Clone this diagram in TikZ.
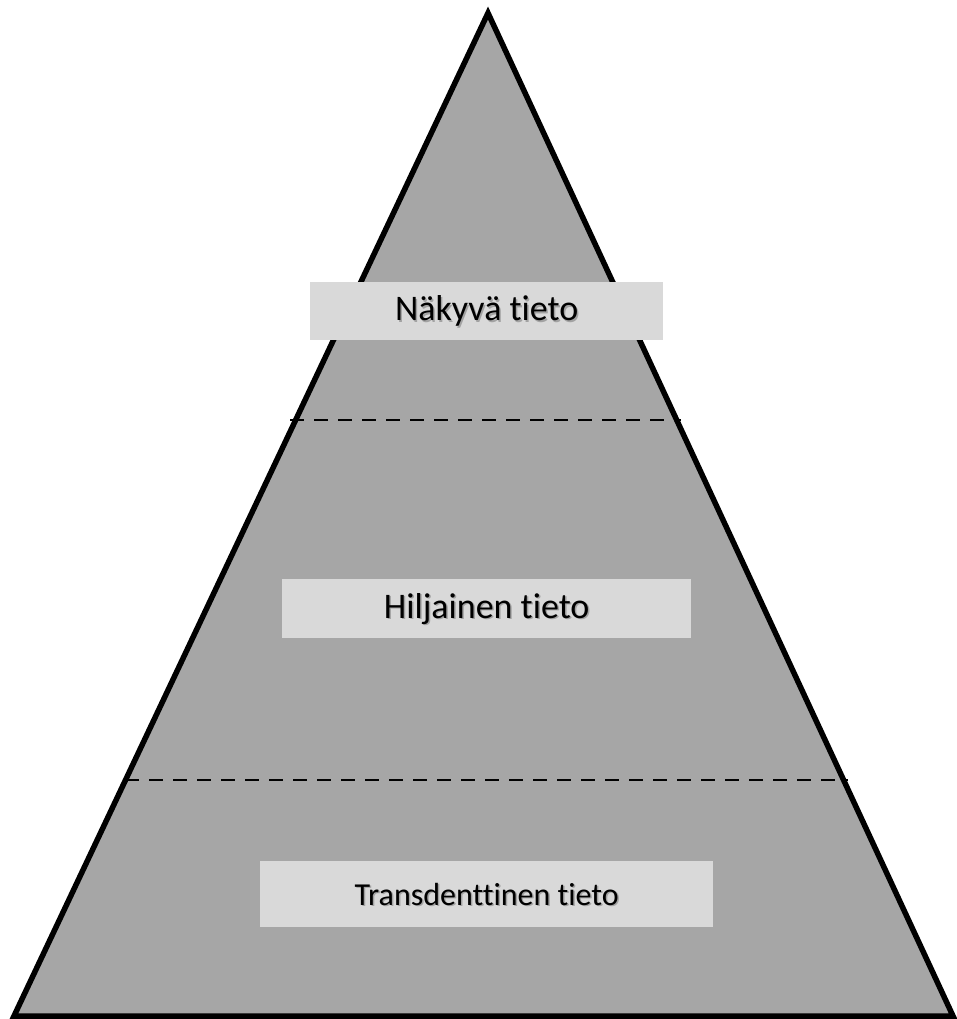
\documentclass[tikz,border=0pt]{standalone}
\usepackage{fontspec}
\setmainfont[Ligatures=NoCommon]{Carlito}
\definecolor{pyramidfill}{HTML}{A6A6A6}
\definecolor{labelfill}{HTML}{D9D9D9}
\definecolor{textshadow}{HTML}{8C8C8C}
\begin{document}
\begin{tikzpicture}[x=1pt,y=-1pt,
  layer/.style={draw=black,line width=5.5pt,fill=pyramidfill,line join=miter},
  divider/.style={draw=black,line width=2.6pt,dash pattern=on 14pt off 10pt},
  labelbox/.style={fill=labelfill,inner sep=0pt,anchor=north west},
  labeltext/.style={font=\fontsize{#1}{#1}\selectfont,text=black},
  shadowtext/.style={font=\fontsize{#1}{#1}\selectfont,text=textshadow,opacity=0.7}]
  \useasboundingbox (0,0) rectangle (957,1019);
  % pyramid outline
  \coordinate (apex) at (488,13);
  \coordinate (bl) at (14,1016);
  \coordinate (br) at (953,1016);
  \path[layer] (apex) -- (bl) -- (br) -- cycle;
  % level dividers, edge to edge
  \coordinate (d1l) at (290,420);
  \coordinate (d1r) at (681,420);
  \coordinate (d2l) at (125,780);
  \coordinate (d2r) at (848,780);
  \draw[divider] (d1l) -- (d1r);
  \draw[divider] (d2l) -- (d2r);
  % label boxes
  \node[labelbox,minimum width=353pt,minimum height=58pt] (b1) at (310,282) {};
  \node[labelbox,minimum width=409pt,minimum height=59pt] (b2) at (282,579) {};
  \node[labelbox,minimum width=453pt,minimum height=66pt] (b3) at (260,861) {};
  % labels with a soft drop shadow
  \node[shadowtext=36] at ([shift={(1.5,1.5)}]b1.center) {Näkyvä tieto};
  \node[labeltext=36] (t1) at (b1.center) {Näkyvä tieto};
  \node[shadowtext=36] at ([shift={(1.5,1.5)}]b2.center) {Hiljainen tieto};
  \node[labeltext=36] (t2) at (b2.center) {Hiljainen tieto};
  \node[shadowtext=32] at ([shift={(1.5,1.5)}]b3.center) {Transdenttinen tieto};
  \node[labeltext=32] (t3) at (b3.center) {Transdenttinen tieto};
\end{tikzpicture}
\end{document}
